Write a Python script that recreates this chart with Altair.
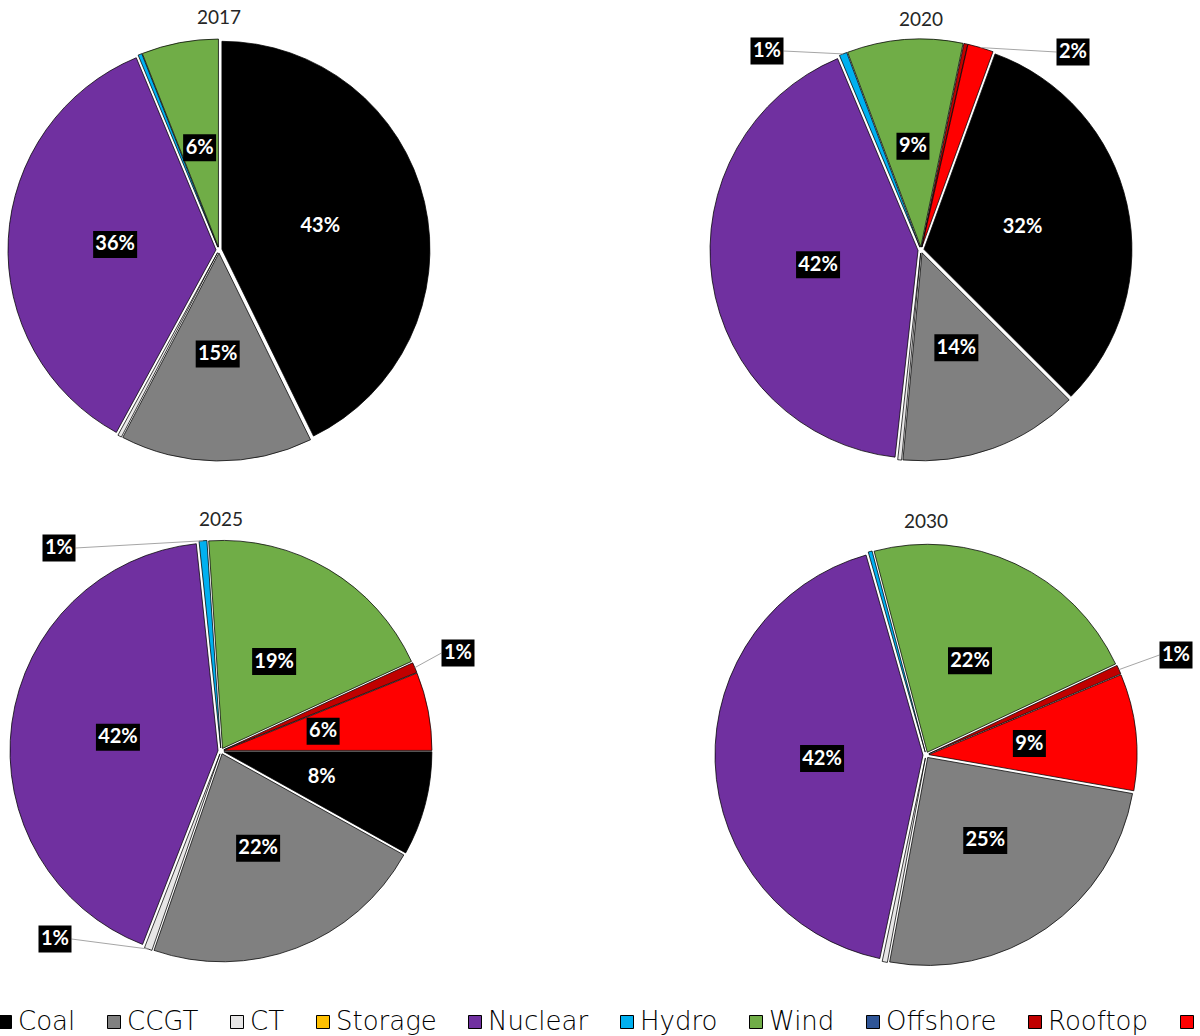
import math

import altair as alt
import pandas as pd

# ---- data -----------------------------------------------------------------
YEARS = ["2017", "2020", "2025", "2030"]
SOURCES = ["Coal", "CCGT", "CT", "Storage", "Nuclear", "Hydro", "Wind",
           "Offshore", "Rooftop", "Solar"]
COLORS = ["#000000", "#808080", "#e7e6e6", "#ffc000", "#7030a0", "#00b0f0",
          "#70ad47", "#2f5597", "#c00000", "#ff0000"]

# generation share by source (%), in SOURCES order
SHARE_2017 = [43, 15, 0.3, 0, 36, 0.3, 6, 0, 0, 0]
SHARE_2020 = [32, 14, 0.3, 0, 42, 0.6, 9, 0, 0.3, 2]
SHARE_2025 = [8, 22, 0.6, 0, 42, 0.6, 19, 0, 0.8, 6]
SHARE_2030 = [0, 25, 0.4, 0, 42, 0.3, 22, 0, 0.7, 9]
SHARES = dict(zip(YEARS, [SHARE_2017, SHARE_2020, SHARE_2025, SHARE_2030]))

# ---- layout ---------------------------------------------------------------
W, H = 1200, 1036
RADIUS = 208
EXPLODE = 3          # px each slice is pulled away from the centre
LABEL_R = 0.5        # inside labels sit at half the radius
PIES = {
    "2017": dict(cx=219, cy=250, start=0, ty=18),
    "2020": dict(cx=921, cy=250, start=20, ty=20),
    "2025": dict(cx=221, cy=751, start=90, ty=520),
    "2030": dict(cx=926, cy=755, start=100, ty=522),
}
# small slices get their label outside, joined by a leader line
CALLOUTS = {
    ("2020", "Hydro"): (767, 51),
    ("2020", "Solar"): (1073, 52),
    ("2025", "Hydro"): (59, 548),
    ("2025", "Rooftop"): (458, 653),
    ("2025", "CT"): (55, 939),
    ("2030", "Rooftop"): (1176, 655),
}

slices, labels, leaders, titles = [], [], [], []
for year in YEARS:
    p = PIES[year]
    vals = SHARES[year]
    total = sum(vals)
    titles.append(dict(year=year, tx=p["cx"], ty=p["ty"]))
    cum = 0.0
    for i, (src, v) in enumerate(zip(SOURCES, vals)):
        f0 = cum / total
        cum += v
        f1 = cum / total
        if v <= 0:
            continue
        off = p["start"] / 360.0
        mid = 2 * math.pi * (off + (f0 + f1) / 2)
        sx, sy = math.sin(mid), math.cos(mid)
        slices.append(dict(year=year, source=src, idx=i, value=v,
                           t0=off + f0, t1=off + f1,
                           cx=p["cx"] + EXPLODE * sx,
                           cy=p["cy"] - EXPLODE * sy))
        pct = round(v / total * 100)
        if pct < 1:
            continue
        text = f"{pct}%"
        hw = 5.5 * (len(text) + 1)
        if (year, src) in CALLOUTS:
            lx, ly = CALLOUTS[(year, src)]
            ax = p["cx"] + (RADIUS + EXPLODE) * sx
            ay = p["cy"] - (RADIUS + EXPLODE) * sy
            ex = lx + hw if ax > lx else lx - hw
            leaders.append(dict(x=ax, y=ay, x2=ex, y2=ly))
        else:
            lx = p["cx"] + LABEL_R * RADIUS * sx
            ly = p["cy"] - LABEL_R * RADIUS * sy
        labels.append(dict(year=year, source=src, text=text, lx=lx, ly=ly,
                           bx0=lx - hw, bx1=lx + hw, by0=ly - 13.5, by1=ly + 13.5))

slice_df = pd.DataFrame(slices)
label_df = pd.DataFrame(labels)
leader_df = pd.DataFrame(leaders)
title_df = pd.DataFrame(titles)

# pixel-space position scales shared by every layer
XS = alt.Scale(domain=[0, W], nice=False, zero=False)
YS = alt.Scale(domain=[0, H], reverse=True, nice=False, zero=False)

pies = alt.Chart(slice_df).mark_arc(
    radius=RADIUS, stroke="black", strokeWidth=0.75
).encode(
    x=alt.X("cx:Q", scale=XS, axis=None),
    y=alt.Y("cy:Q", scale=YS, axis=None),
    theta=alt.Theta("t0:Q", stack=None,
                    scale=alt.Scale(domain=[0, 1], range=[0, 2 * math.pi],
                                    nice=False, zero=False)),
    theta2="t1:Q",
    color=alt.Color(
        "source:N",
        sort=SOURCES,
        scale=alt.Scale(domain=SOURCES, range=COLORS),
        legend=alt.Legend(
            title=None, orient="none", legendX=-8, legendY=1009,
            direction="horizontal", symbolType="square", symbolSize=169,
            symbolStrokeColor="black", symbolStrokeWidth=1,
            labelFont="DejaVu Sans", labelFontSize=26, labelFontWeight=200,
            labelColor="black", labelOffset=0, columnPadding=25, padding=0,
        ),
    ),
    order=alt.Order("idx:Q"),
)

leader_lines = alt.Chart(leader_df).mark_rule(color="#a6a6a6", strokeWidth=1).encode(
    x=alt.X("x:Q", scale=XS, axis=None),
    y=alt.Y("y:Q", scale=YS, axis=None),
    x2="x2:Q",
    y2="y2:Q",
)

boxes = alt.Chart(label_df).mark_rect(color="black").encode(
    x=alt.X("bx0:Q", scale=XS, axis=None),
    x2="bx1:Q",
    y=alt.Y("by0:Q", scale=YS, axis=None),
    y2="by1:Q",
)

pct_text = alt.Chart(label_df).mark_text(
    font="Lato", fontWeight="bold", fontSize=20, color="white", baseline="middle"
).encode(
    x=alt.X("lx:Q", scale=XS, axis=None),
    y=alt.Y("ly:Q", scale=YS, axis=None),
    text="text:N",
)

year_titles = alt.Chart(title_df).mark_text(
    font="Lato", fontSize=19, color="#262626", baseline="middle"
).encode(
    x=alt.X("tx:Q", scale=XS, axis=None),
    y=alt.Y("ty:Q", scale=YS, axis=None),
    text="year:N",
)

chart = alt.layer(pies, leader_lines, boxes, pct_text, year_titles).properties(
    width=W, height=H,
    autosize=alt.AutoSizeParams(type="none"),
    padding=0,
    background="white",
).configure_view(stroke=None)

chart.save("out.html", embed_options={"renderer": "svg", "actions": False})
